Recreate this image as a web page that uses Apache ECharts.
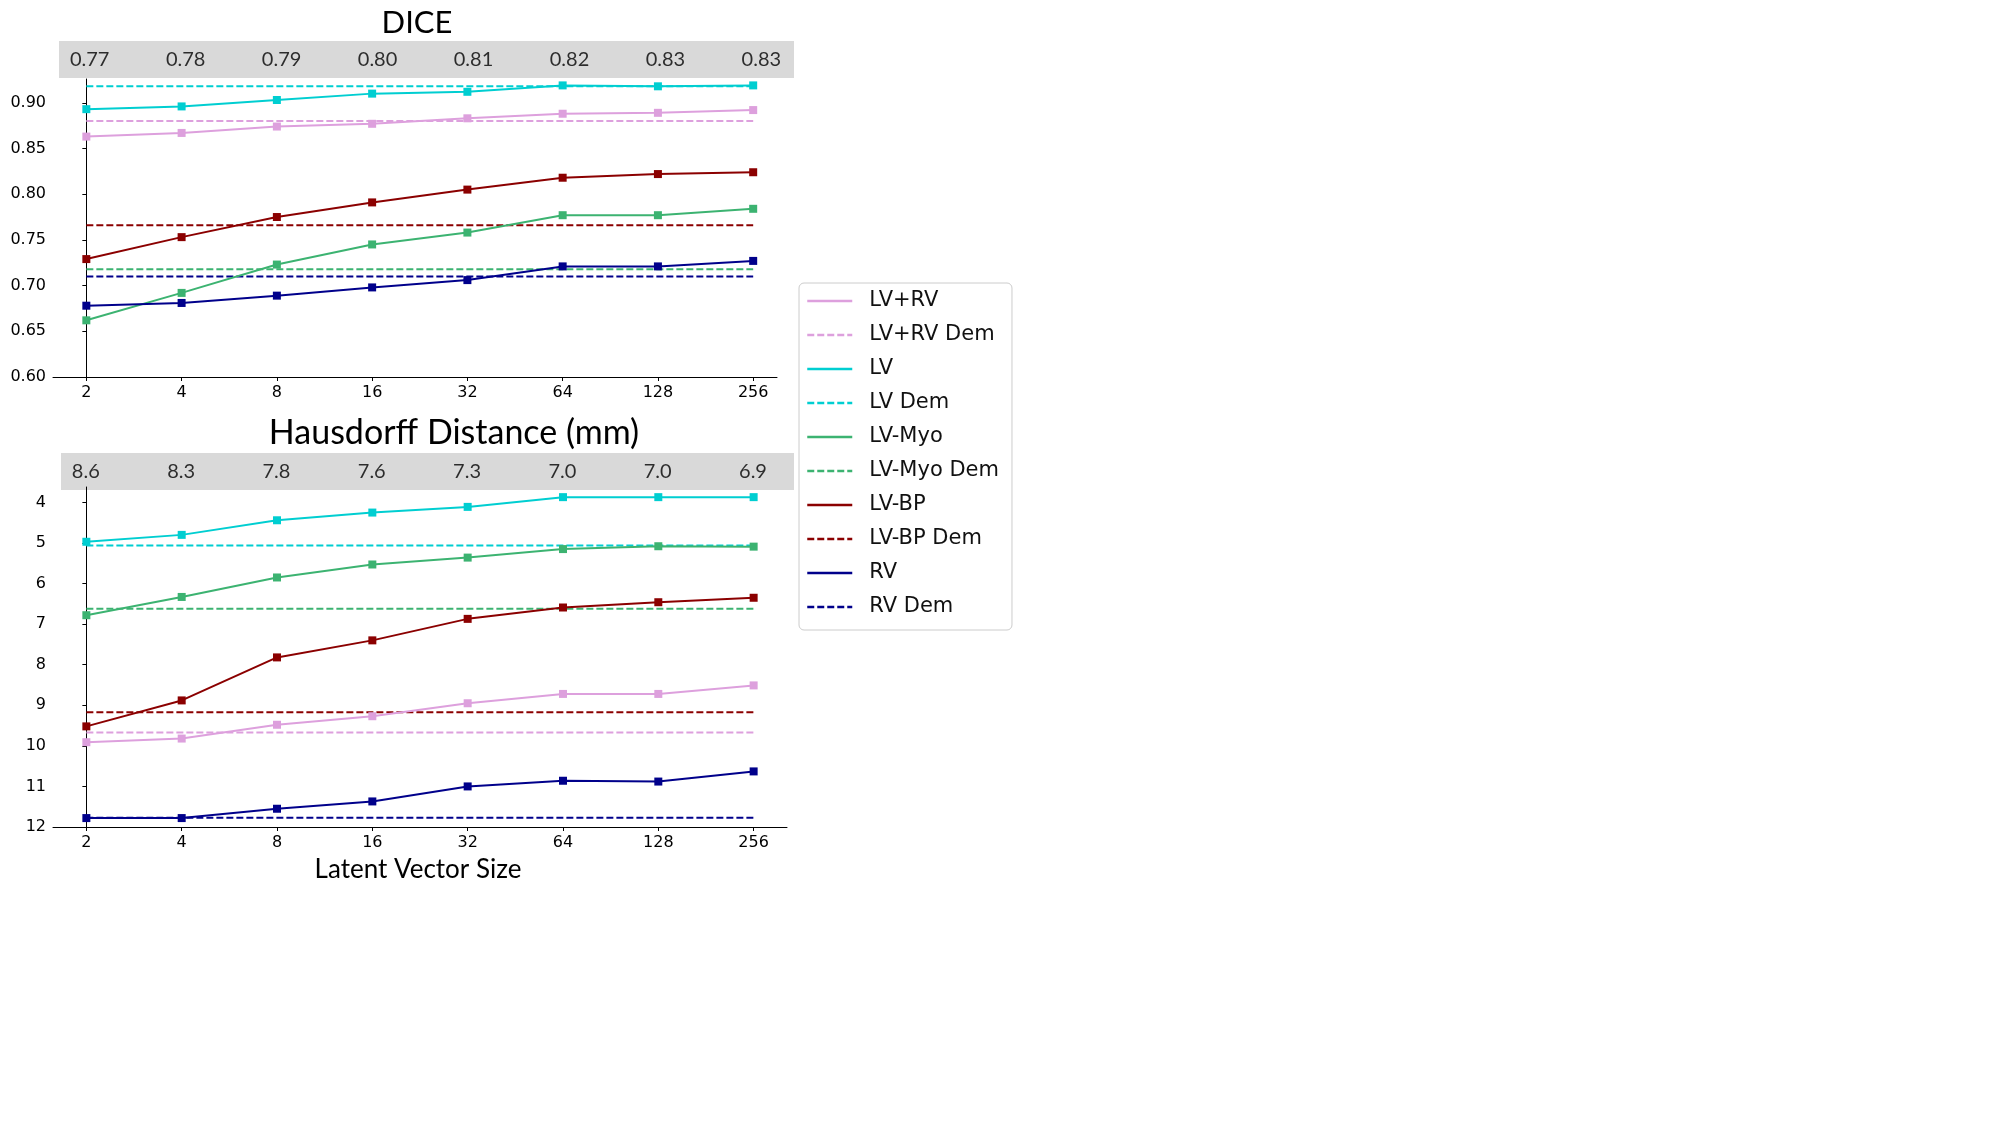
<html lang="en">
<head>
    <meta charset="UTF-8">
    <title>DICE / Hausdorff vs latent size</title>
    <style>
        html, body { margin: 0; padding: 0; background: #fff; }
        #echart { width: 2000px; height: 1125px; }
    </style>
</head>
<body>
    <div id="echart"></div>
    <script src="https://cdn.jsdelivr.net/npm/echarts@6/dist/echarts.min.js"></script>
    <script>
        // x categories (latent vector size)
        const latent = ['2', '4', '8', '16', '32', '64', '128', '256']
        // numbers in the grey bands (mean over structures)
        const diceBand = ['0.77', '0.78', '0.79', '0.80', '0.81', '0.82', '0.83', '0.83']
        const hdBand = ['8.6', '8.3', '7.8', '7.6', '7.3', '7.0', '7.0', '6.9']
        const diceTicks = [0.60, 0.65, 0.70, 0.75, 0.80, 0.85, 0.90]
        const hdTicks = [4, 5, 6, 7, 8, 9, 10, 11, 12]

        // DICE per structure
        const diceLVRV = [0.863, 0.867, 0.874, 0.877, 0.883, 0.888, 0.889, 0.892]
        const diceLV = [0.893, 0.896, 0.903, 0.910, 0.912, 0.919, 0.918, 0.919]
        const diceMyo = [0.662, 0.692, 0.723, 0.745, 0.758, 0.777, 0.777, 0.784]
        const diceBP = [0.729, 0.753, 0.775, 0.791, 0.805, 0.818, 0.822, 0.824]
        const diceRV = [0.678, 0.681, 0.689, 0.698, 0.706, 0.721, 0.721, 0.727]
        // DICE of Dem (baseline)
        const diceDem = [0.880, 0.918, 0.718, 0.766, 0.710]

        // Hausdorff distance per structure (mm)
        const hdLVRV = [9.91, 9.82, 9.48, 9.27, 8.95, 8.72, 8.72, 8.51]
        const hdLV = [4.97, 4.80, 4.44, 4.25, 4.11, 3.87, 3.87, 3.87]
        const hdMyo = [6.78, 6.33, 5.85, 5.53, 5.36, 5.15, 5.08, 5.09]
        const hdBP = [9.52, 8.88, 7.82, 7.40, 6.87, 6.59, 6.46, 6.35]
        const hdRV = [11.78, 11.78, 11.55, 11.37, 11.00, 10.86, 10.88, 10.63]
        const hdDem = [9.67, 5.06, 6.62, 9.17, 11.77]

        const names = ['LV+RV', 'LV', 'LV-Myo', 'LV-BP', 'RV']
        const colors = ['#dda0dd', '#00ced1', '#3cb371', '#8b0000', '#00008b']

        const tickFont = { fontFamily: 'DejaVu Sans', fontSize: 16, color: '#000' }
        const titleFont = { fontFamily: 'Lato', fontSize: 32, fontWeight: 'normal', color: '#000' }

        const echart = echarts.init(document.getElementById('echart'))

        function solid(name, color, values, gi) {
            return {
                type: 'line', name: name, xAxisIndex: gi, yAxisIndex: gi,
                data: values.map((v, i) => [i, v]),
                symbol: 'rect', symbolSize: 8,
                itemStyle: { color: color },
                lineStyle: { color: color, width: 2 },
                emphasis: { disabled: true }, z: 3
            }
        }
        function dashed(name, color, value, gi) {
            return {
                type: 'line', name: name + ' Dem', xAxisIndex: gi, yAxisIndex: gi,
                data: latent.map((c, i) => [i, value]),
                symbol: 'none',
                itemStyle: { color: color },
                lineStyle: { color: color, width: 2, type: [7, 3] },
                emphasis: { disabled: true }, z: 2
            }
        }
        function band(labels, gi) {
            return {
                type: 'scatter', xAxisIndex: gi, yAxisIndex: gi, silent: true,
                data: labels.map((t, i) => [i, 0.5]),
                symbolSize: 1, itemStyle: { color: 'rgba(0,0,0,0)' },
                label: {
                    show: true, position: 'inside', color: '#000',
                    fontFamily: 'Lato', fontSize: 20,
                    formatter: p => labels[p.dataIndex]
                }
            }
        }

        const series = []
        names.forEach((n, k) => {
            series.push(solid(n, colors[k], [diceLVRV, diceLV, diceMyo, diceBP, diceRV][k], 1))
            series.push(dashed(n, colors[k], diceDem[k], 1))
            series.push(solid(n, colors[k], [hdLVRV, hdLV, hdMyo, hdBP, hdRV][k], 3))
            series.push(dashed(n, colors[k], hdDem[k], 3))
        })
        series.push(band(diceBand, 0))
        series.push(band(hdBand, 2))

        const idx = latent.map((c, i) => i)
        function plotX(gi, max) {
            return {
                type: 'value', gridIndex: gi, min: -0.35, max: max,
                splitLine: { show: false },
                axisLine: { lineStyle: { color: '#000', width: 1 } },
                axisTick: { customValues: idx, length: 4, lineStyle: { color: '#000' } },
                axisLabel: Object.assign({ customValues: idx, margin: 8, formatter: v => latent[Math.round(v)] }, tickFont)
            }
        }
        function hiddenAxis(gi, min, max) {
            return { type: 'value', gridIndex: gi, min: min, max: max, show: false }
        }

        echart.setOption({
            animation: false,
            backgroundColor: '#fff',
            title: [
                { text: 'DICE', left: 412, top: 18, textAlign: 'center', textVerticalAlign: 'middle',
                  textStyle: Object.assign({}, titleFont, { fontSize: 31 }) },
                { text: 'Hausdorff Distance (mm)', left: 449, top: 428, textAlign: 'center', textVerticalAlign: 'middle',
                  textStyle: Object.assign({}, titleFont, { fontSize: 34 }) },
                { text: 'Latent Vector Size', left: 413, top: 865, textAlign: 'center', textVerticalAlign: 'middle',
                  textStyle: { fontFamily: 'Lato', fontSize: 26, fontWeight: 'normal', color: '#000' } }
            ],
            grid: [
                // grey band above DICE
                { left: 59, top: 41, width: 735, height: 37, show: true, backgroundColor: '#d9d9d9', borderWidth: 0, outerBoundsMode: 'none' },
                // DICE plot
                { left: 53, top: 79, width: 724, height: 298, outerBoundsMode: 'none' },
                // grey band above Hausdorff
                { left: 61, top: 453, width: 733, height: 37, show: true, backgroundColor: '#d9d9d9', borderWidth: 0, outerBoundsMode: 'none' },
                // Hausdorff plot
                { left: 53, top: 487, width: 734, height: 340, outerBoundsMode: 'none' }
            ],
            xAxis: [
                hiddenAxis(0, -0.32, 7.34),
                plotX(1, 7.25),
                hiddenAxis(2, -0.26, 7.43),
                plotX(3, 7.35)
            ],
            yAxis: [
                hiddenAxis(0, 0, 1),
                {
                    type: 'value', gridIndex: 1, min: 0.6, max: 0.926,
                    splitLine: { show: false },
                    axisLine: { show: true, lineStyle: { color: '#000', width: 1 } },
                    axisTick: { show: true, customValues: diceTicks, length: 4, lineStyle: { color: '#000' } },
                    axisLabel: Object.assign({ customValues: diceTicks, margin: 7, formatter: v => v.toFixed(2) }, tickFont)
                },
                hiddenAxis(2, 0, 1),
                {
                    type: 'value', gridIndex: 3, min: 3.62, max: 12, inverse: true,
                    splitLine: { show: false },
                    axisLine: { show: true, lineStyle: { color: '#000', width: 1 } },
                    axisTick: { show: true, customValues: hdTicks, length: 4, lineStyle: { color: '#000' } },
                    axisLabel: Object.assign({ customValues: hdTicks, margin: 7, formatter: v => String(Math.round(v)) }, tickFont)
                }
            ],
            legend: {
                orient: 'vertical', left: 799, top: 283,
                data: ['LV+RV', 'LV+RV Dem', 'LV', 'LV Dem', 'LV-Myo', 'LV-Myo Dem', 'LV-BP', 'LV-BP Dem', 'RV', 'RV Dem'],
                backgroundColor: '#fff', borderColor: '#cccccc', borderWidth: 1, borderRadius: 5,
                padding: [7, 13, 12, 7],
                itemWidth: 45, itemHeight: 14, itemGap: 12,
                itemStyle: { opacity: 0 },
                lineStyle: { width: 2.5 },
                textStyle: { fontFamily: 'DejaVu Sans', fontSize: 21, color: '#111', lineHeight: 22, padding: [0, 0, 0, 12] },
                selectedMode: false
            },
            series: series
        })
    </script>
</body>
</html>
